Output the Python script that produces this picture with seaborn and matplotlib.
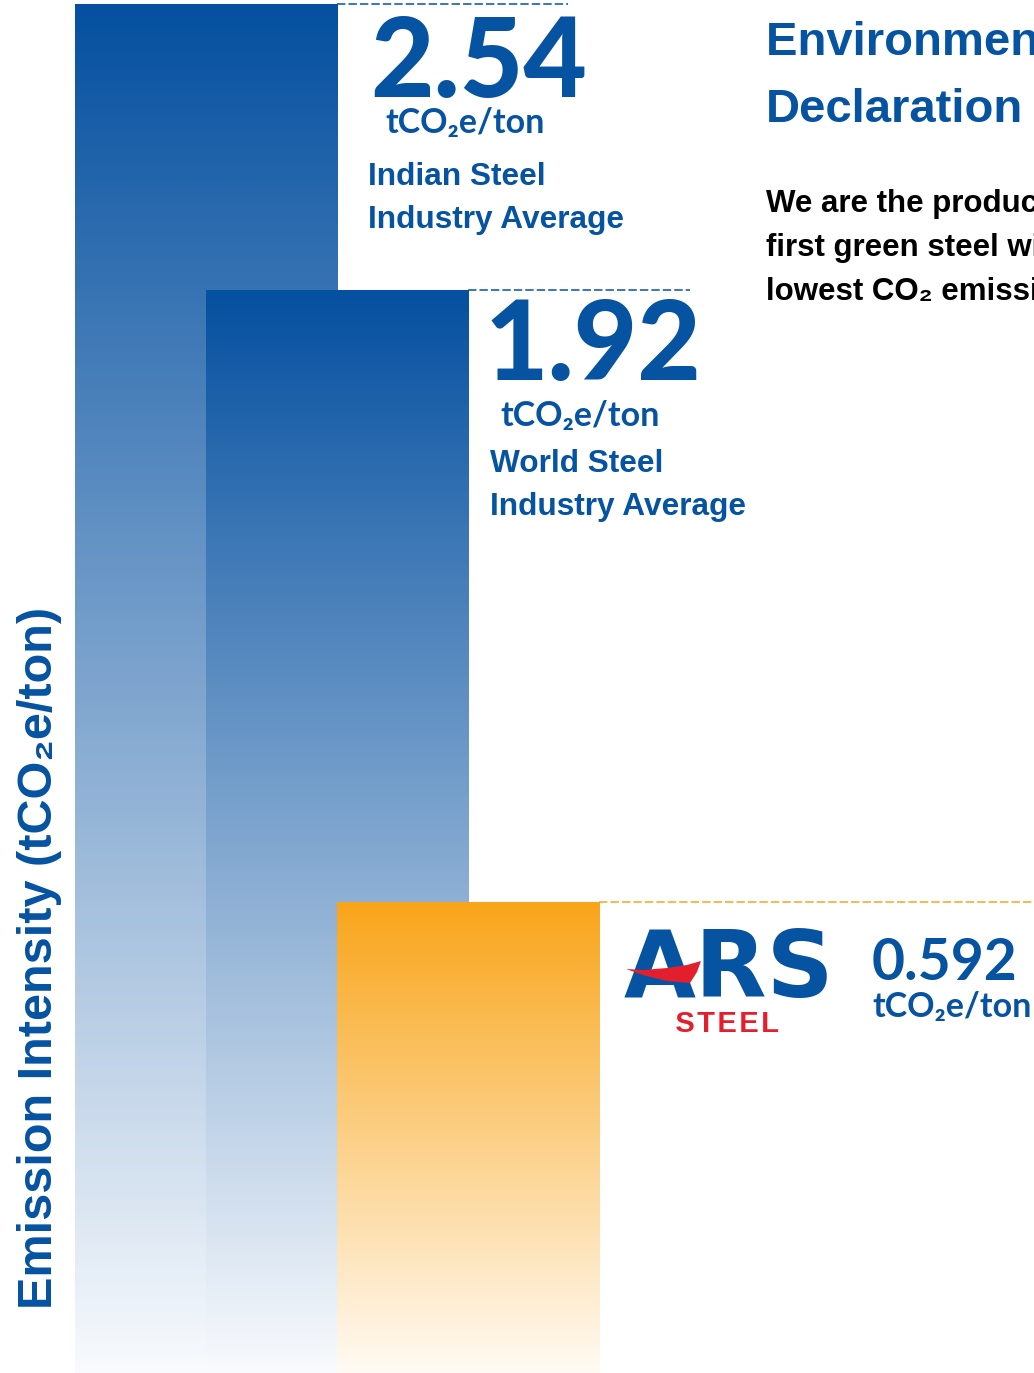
import numpy as np
import pandas as pd
import matplotlib
matplotlib.use('Agg')
import matplotlib.pyplot as plt
import matplotlib.colors as mcolors
from matplotlib.patches import Polygon
import seaborn as sns

# Chart data
producers = ['Indian Steel Industry Average', 'World Steel Industry Average', 'ARS Steel']
intensity = [2.54, 1.92, 0.592]
value_labels = ['2.54', '1.92', '0.592']
unit_label = 'tCO₂e/ton'
group_lines = [['Indian Steel', 'Industry Average'], ['World Steel', 'Industry Average']]
title_lines = ['Environmental Product', 'Declaration']
body_lines = ['We are the producers of', 'first green steel with the', 'lowest CO₂ emission']
axis_label = 'Emission Intensity (tCO₂e/ton)'

# Style
W, H = 1034, 1373
BLUE = '#0553a1'
ORANGE = '#f9a51c'
RED = '#e31e2d'
top_colors = ['#0550a0', '#0550a0', '#f9a51a']
bottom_colors = ['#f8fafd', '#f8fafd', '#fffbf4']
BASE = -0.4295         # bars run down past zero to the page bottom
YTOP = 2.549
SANS = ['Liberation Sans', 'DejaVu Sans']
NUM = ['Lato', 'DejaVu Sans']

sns.set_style('white')
plt.rcParams['font.family'] = SANS

fig = plt.figure(figsize=(W / 100, H / 100), dpi=100)
ax = fig.add_axes([75 / W, 0, (W - 75) / W, 1])

df = pd.DataFrame({'producer': producers, 'intensity': intensity})
df['height'] = df['intensity'] - BASE

sns.barplot(data=df, x='producer', y='height', order=producers, width=2.0,
            bottom=BASE, color=BLUE, errorbar=None, ax=ax)

# Gradient fill clipped to each bar
grad = np.linspace(0, 1, 256).reshape(-1, 1)
for i, bar in enumerate(ax.patches):
    x0, y0 = bar.get_x(), bar.get_y()
    x1, y1 = x0 + bar.get_width(), y0 + bar.get_height()
    cmap = mcolors.LinearSegmentedColormap.from_list('g%d' % i, [bottom_colors[i], top_colors[i]])
    img = ax.imshow(grad, extent=(x0, x1, y0, y1), origin='lower', aspect='auto',
                    cmap=cmap, zorder=2 + i, interpolation='bilinear')
    img.set_clip_path(bar)
    bar.set_facecolor('none')
    bar.set_edgecolor('none')

# Dashed leader lines at each bar top
line_ends = [2.763, 3.695, 6.4]
line_colors = [BLUE, BLUE, ORANGE]
for i, bar in enumerate(ax.patches):
    ax.hlines(intensity[i], bar.get_x() + bar.get_width(), line_ends[i],
              color=line_colors[i], lw=1.1, linestyles=(0, (5.5, 2)), zorder=6)

ax.set_xlim(-1, 6.32)
ax.set_ylim(BASE, YTOP)
ax.set_xticks([])
ax.set_yticks([])
ax.set_xlabel('')
sns.despine(ax=ax, left=True, bottom=True)

ax.set_ylabel(axis_label, fontsize=35, fontweight='bold', color=BLUE, family=SANS)
ax.yaxis.set_label_coords(-0.0136, 0.302)


def put(x, y, s, **kw):
    fig.text(x / W, 1 - y / H, s, va='baseline', ha='left', **kw)


# Value annotations
put(370, 97, value_labels[0], fontsize=79, fontweight='black', color=BLUE, family=NUM)
put(385, 133, unit_label, fontsize=24.5, fontweight='bold', color=BLUE, family=NUM)
put(368, 185, group_lines[0][0], fontsize=22.8, fontweight='bold', color=BLUE)
put(368, 228, group_lines[0][1], fontsize=22.8, fontweight='bold', color=BLUE)

put(485, 380, value_labels[1], fontsize=79, fontweight='black', color=BLUE, family=NUM)
put(500, 426, unit_label, fontsize=24.5, fontweight='bold', color=BLUE, family=NUM)
put(490, 472, group_lines[1][0], fontsize=22.8, fontweight='bold', color=BLUE)
put(490, 515, group_lines[1][1], fontsize=22.8, fontweight='bold', color=BLUE)

put(872, 980, value_labels[2], fontsize=41, fontweight='bold', color=BLUE, family=NUM)
put(872, 1017, unit_label, fontsize=24.5, fontweight='bold', color=BLUE, family=NUM)

# Heading and body text
put(766, 55, title_lines[0], fontsize=34, fontweight='bold', color=BLUE)
put(766, 122, title_lines[1], fontsize=34, fontweight='bold', color=BLUE)
for k, line in enumerate(body_lines):
    put(766, 212 + k * 44, line, fontsize=22.5, fontweight='bold', color='black')

# ARS Steel logo
put(624, 997, 'ARS', fontsize=67, fontweight='black', color=BLUE, family=['DejaVu Sans'])
swoosh = [(626, 969), (643, 970), (667, 968), (687, 965), (701, 961),
          (697, 972), (690, 983), (667, 981), (643, 975)]
fig.patches.append(Polygon([(x / W, 1 - y / H) for x, y in swoosh], closed=True,
                           facecolor=RED, edgecolor='none', transform=fig.transFigure, zorder=8))
put(673, 1032, '\u200aS\u200aT\u200aE\u200aE\u200aL', fontsize=21, fontweight='bold',
    color=RED, family=SANS)

fig.savefig('out.png', dpi=100)
